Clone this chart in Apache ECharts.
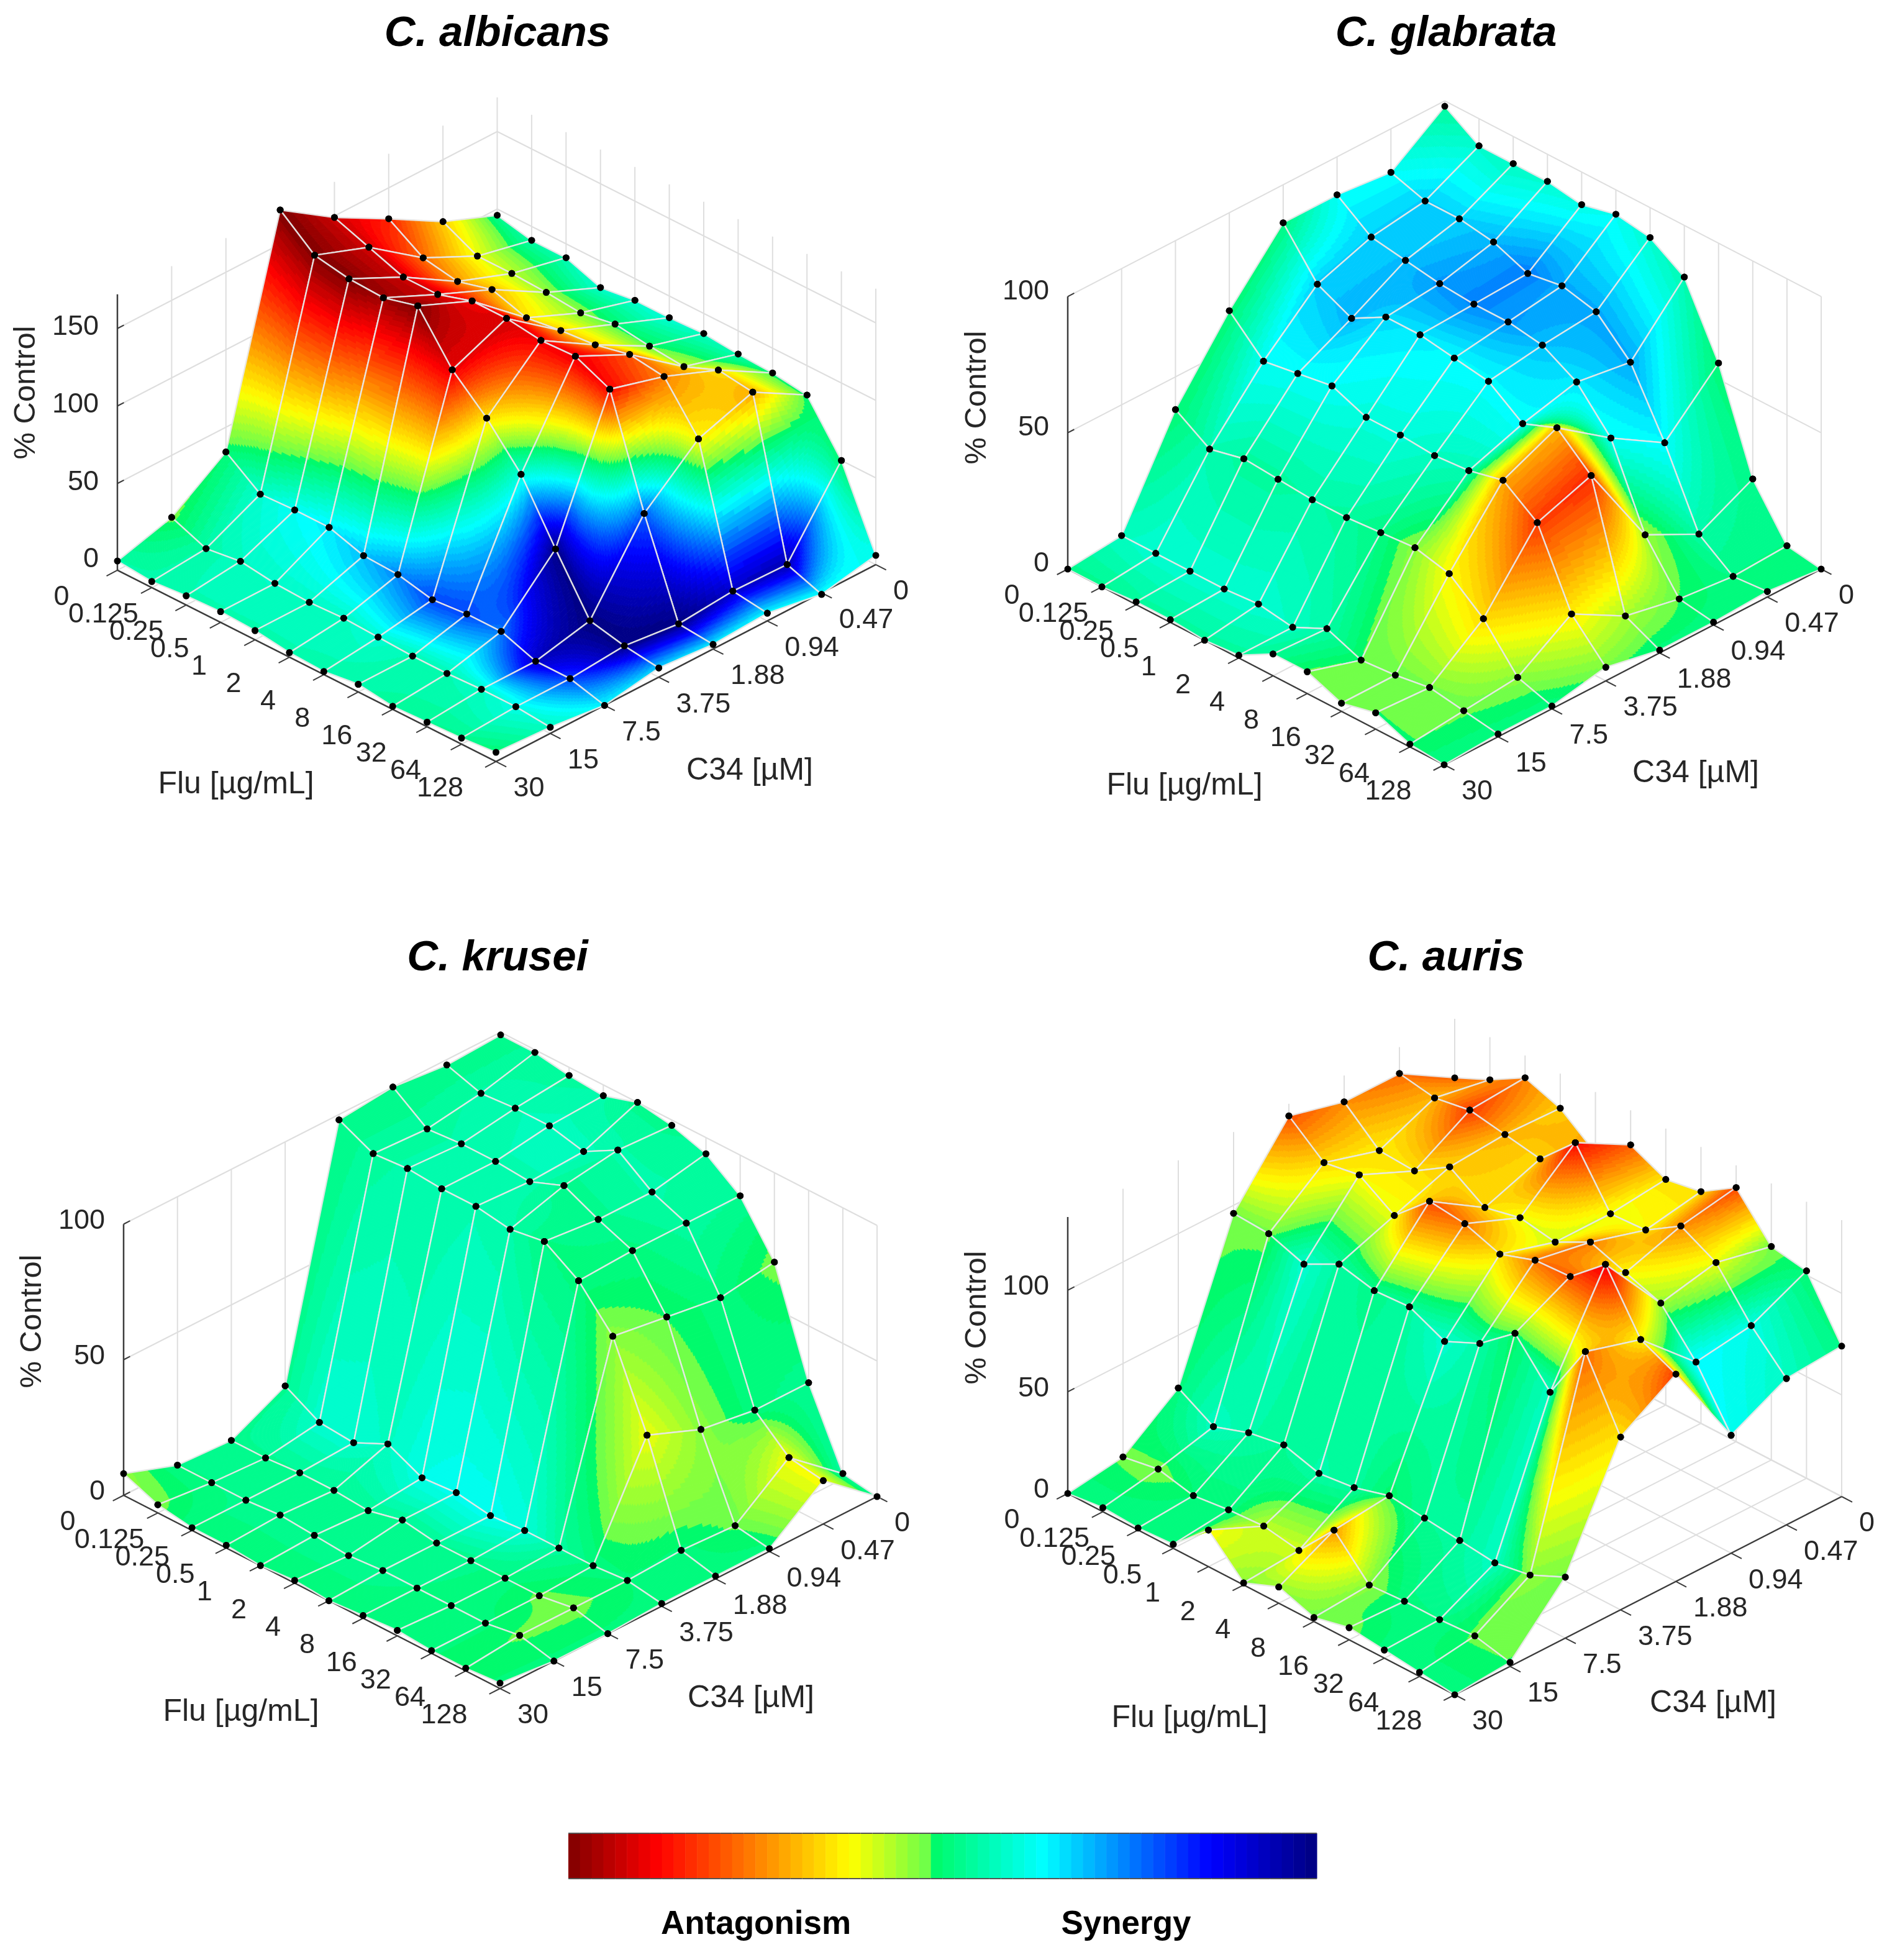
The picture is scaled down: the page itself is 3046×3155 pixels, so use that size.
<!DOCTYPE html>
<html>
<head>
<meta charset="utf-8">
<style>html,body{margin:0;background:#fff}#main{width:3046px;height:3155px}</style>
<script src="https://cdn.jsdelivr.net/npm/echarts@6/dist/echarts.min.js"></script>
</head>
<body>
<div id="main"></div>
<script>
// axis labels, k = 0 is the front edge (C34 = 30)
var fluLabels = ['0','0.125','0.25','0.5','1','2','4','8','16','32','64','128'];
var c34Labels = ['30','15','7.5','3.75','1.88','0.94','0.47','0'];

// % control, one row per Flu dose, one column per C34 dose (30 -> 0)
var albicansZ = [
  [0,10,34,172,149,130,110,96],
  [-2,1,18,154,141,116,99,91],
  [0,4,19,150,133,112,99,91],
  [1,1,19,149,133,118,98,83],
  [0,0,12,155,140,111,96,86],
  [-3,1,11,125,140,114,100,86],
  [-4,0,6,105,137,116,97,87],
  [-1,-1,8,80,138,121,95,85],
  [-4,-1,8,43,128,118,104,84],
  [-3,0,0,8,59,89,101,81],
  [-2,0,0,3,-1,2,1,50],
  [0,-2,-6,0,-3,-1,-7,0]
];
var glabrataZ = [
  [0,2,38,64,86,86,84,98],
  [0,2,30,52,70,77,80,90],
  [1,2,33,54,64,75,80,90],
  [1,2,32,56,71,73,78,90],
  [0,3,31,51,71,72,73,88],
  [1,1,31,51,69,72,75,91],
  [8,7,32,50,67,70,72,89],
  [8,2,33,51,58,63,60,81],
  [3,3,30,54,63,49,37,56],
  [6,5,20,45,52,20,10,20],
  [1,3,5,18,7,3,1,2],
  [0,1,1,5,1,1,2,0]
];
var kruseiZ = [
  [8,1,0,10,98,100,98,99],
  [3,1,0,3,92,91,94,99],
  [1,1,1,2,93,92,95,97],
  [1,2,1,8,92,92,95,96],
  [0,1,0,2,92,91,92,100],
  [1,0,3,3,90,96,99,98],
  [0,1,1,1,92,90,90,94],
  [1,1,1,2,84,85,85,85],
  [2,1,1,2,70,67,64,67],
  [1,1,1,2,40,32,29,29],
  [1,3,3,3,4,3,18,2],
  [2,0,0,1,1,1,16,0]
];
var aurisZ = [
  [0,4,24,96,130,123,123,107],
  [2,7,14,95,116,108,120,115],
  [1,3,20,89,119,107,123,125],
  [2,5,23,98,108,118,120,119],
  [18,6,18,94,124,107,117,106],
  [1,3,20,95,122,111,134,119],
  [8,22,25,87,116,108,108,111],
  [2,4,23,95,122,117,109,114],
  [6,5,21,109,123,111,120,125],
  [4,5,19,89,138,105,111,105],
  [2,6,22,118,110,85,89,102],
  [0,2,30,85,102,58,72,74]
];

// interaction score: +100 antagonism ... -100 synergy
var albicansScore = [
  [-10,5,0,100,85,70,35,-5],
  [-10,-10,-18,100,85,55,22,-10],
  [-12,-15,-25,100,85,45,15,-12],
  [-12,-16,-30,95,85,40,10,-18],
  [-12,-15,-38,100,75,30,8,-18],
  [-12,-15,-48,80,85,35,0,-20],
  [-10,-18,-60,30,78,35,3,-15],
  [-10,-12,-60,-20,80,60,15,-12],
  [-8,-12,-50,-98,76,50,30,0],
  [-6,-15,-85,-100,-55,25,42,0],
  [-5,-22,-60,-100,-100,-85,-90,0],
  [0,-15,-28,-35,-30,-27,-25,-25]
];
var glabrataScore = [
  [-5,-15,0,0,-2,-25,-25,-8],
  [-5,-18,-12,-25,-35,-35,-35,-18],
  [-8,-18,-8,-25,-40,-38,-35,-15],
  [-8,-18,-8,-25,-33,-45,-40,-18],
  [-8,-18,-10,-20,-30,-48,-50,-22],
  [-8,-15,-8,-20,-27,-45,-42,-25],
  [-6,-10,-3,-15,-27,-38,-42,-18],
  [4,3,8,-12,-27,-30,-42,-12],
  [4,4,25,42,40,-25,-27,0],
  [3,5,32,65,68,10,-10,-5],
  [3,4,8,28,12,3,-3,-3],
  [-3,-2,-2,6,-1,-2,-3,-3]
];
var kruseiScore = [
  [8,-3,-6,-5,-3,-3,-3,-3],
  [5,-3,-5,-18,-8,-8,-10,-8],
  [-2,-4,-6,-18,-10,-10,-12,-8],
  [-2,-4,-6,-15,-10,-12,-14,-10],
  [-2,-4,-6,-22,-12,-12,-14,-5],
  [-2,-4,-6,-24,-10,-5,-10,-5],
  [-2,-4,-6,-24,-3,-5,-10,-8],
  [-2,-3,-4,-20,-2,-2,-8,-6],
  [-2,-2,-2,-8,8,3,-2,5],
  [0,-1,4,-2,22,8,-2,-5],
  [0,4,5,0,-1,4,24,-8],
  [0,-1,-1,-1,-1,-1,24,-6]
];
var aurisScore = [
  [-3,4,-2,5,60,48,55,58],
  [-3,6,-15,5,32,28,40,50],
  [-3,0,-10,-18,25,30,65,50],
  [-2,-2,-6,-8,22,35,40,35],
  [25,15,-10,-5,62,32,32,45],
  [8,18,-8,-8,52,22,75,58],
  [10,45,2,-18,30,18,22,30],
  [5,8,-6,-10,52,52,25,30],
  [5,-2,-8,2,60,25,48,62],
  [-1,-3,-15,-15,80,10,22,5],
  [-2,4,8,55,25,-28,-22,0],
  [-2,3,5,30,65,-25,-15,-3]
];

var panels = [
  {title:'C. albicans', z:albicansZ, score:albicansScore, zTicks:[0,50,100,150], zMin:-6, zMax:172, zPx:2.495, zLabelDy:-2,
   leftPt:[189,903], frontPt:[798.5,1211], rightPt:[1410,894], grid:[0,0],
   titlePos:[796,50], flu:[380,1263], c34:[1207,1241], ctrl:[42,632]},
  {title:'C. glabrata', z:glabrataZ, score:glabrataScore, zTicks:[0,50,100], zMin:0, zMax:100, zPx:4.387, zLabelDy:-8,
   leftPt:[1719,916], frontPt:[2325,1231], rightPt:[2932,916], grid:[1523,0],
   titlePos:[2323,50], flu:[1907,1265], c34:[2730,1245], ctrl:[1573,640]},
  {title:'C. krusei', z:kruseiZ, score:kruseiScore, zTicks:[0,50,100], zMin:0, zMax:100, zPx:4.365, zLabelDy:-5,
   leftPt:[199,2407], frontPt:[805,2718], rightPt:[1412,2409], grid:[0,1500],
   titlePos:[796,1538], flu:[388,2756], c34:[1209,2734], ctrl:[52,2127]},
  {title:'C. auris', z:aurisZ, score:aurisScore, zTicks:[0,50,100], zMin:0, zMax:136, zPx:3.272, zLabelDy:-5,
   leftPt:[1719,2404], frontPt:[2342,2728], rightPt:[2965,2409], grid:[1523,1500],
   titlePos:[2323,1538], flu:[1915,2766], c34:[2758,2742], ctrl:[1573,2121]}
];
var gridW = 1523, gridH = 1655;

// 64 level colormap, with the hard step between yellow-green and green
var colorStops = [
  [0,[128,0,0]],[0.12,[255,0,0]],[0.377,[255,255,0]],[0.484,[102,255,77]],
  [0.4841,[0,250,100]],[0.634,[0,255,255]],[0.858,[0,0,255]],[1,[0,0,128]]
];
var levels = [];
for (var l = 0; l < 64; l++) {
  var p = (l + 0.5) / 64, s = 0;
  while (s < colorStops.length - 2 && p > colorStops[s + 1][0]) s++;
  var a = colorStops[s], b = colorStops[s + 1], t = (p - a[0]) / (b[0] - a[0]);
  levels.push('rgb(' + [0,1,2].map(function (q) { return Math.round(a[1][q] + (b[1][q] - a[1][q]) * t); }).join(',') + ')');
}
function scoreLevel(score) {
  var lev = Math.floor((100 - score) / 200 * 64);
  return Math.max(0, Math.min(63, lev));
}

// 3D -> view units of the panel's hidden axes
function project(pn, i, k, z) {
  var x = pn.leftPt[0] + i * (pn.frontPt[0] - pn.leftPt[0]) / 11 + k * (pn.rightPt[0] - pn.frontPt[0]) / 7;
  var y = pn.leftPt[1] + i * (pn.frontPt[1] - pn.leftPt[1]) / 11 + k * (pn.rightPt[1] - pn.frontPt[1]) / 7;
  return [x - pn.grid[0], pn.grid[1] + gridH - (y - z * pn.zPx)];
}

var font = '"Liberation Sans", Arial, sans-serif';
function textEl(str, pos, size, align, rot) {
  return {type:'text', x:pos[0], y:pos[1], rotation:rot || 0,
    style:{text:str, x:0, y:0, fill:'#262626', font:size + 'px ' + font, align:align, verticalAlign:'middle'}};
}
function lineEl(a, b, color, w) {
  return {type:'line', shape:{x1:a[0], y1:a[1], x2:b[0], y2:b[1]}, style:{stroke:color, lineWidth:w}};
}

function renderFrame(pn, api) {
  var out = [], grey = '#dedede', dark = '#3c3c3c';
  function pt(i, k, z) { return api.coord(project(pn, i, k, z)); }
  var i, k;
  // floor
  for (i = 0; i < 12; i++) out.push(lineEl(pt(i,0,pn.zMin), pt(i,7,pn.zMin), grey, 2));
  for (k = 0; k < 8; k++) out.push(lineEl(pt(0,k,pn.zMin), pt(11,k,pn.zMin), grey, 2));
  // back walls
  for (k = 1; k < 8; k++) out.push(lineEl(pt(0,k,pn.zMin), pt(0,k,pn.zMax), grey, 2));
  for (i = 1; i < 12; i++) out.push(lineEl(pt(i,7,pn.zMin), pt(i,7,pn.zMax), grey, 2));
  pn.zTicks.forEach(function (v) {
    out.push(lineEl(pt(0,0,v), pt(0,7,v), grey, 2));
    out.push(lineEl(pt(0,7,v), pt(11,7,v), grey, 2));
  });
  // axes with ticks
  out.push(lineEl(pt(0,0,pn.zMin), pt(0,0,pn.zMax), dark, 2.5));
  out.push(lineEl(pt(0,0,pn.zMin), pt(11,0,pn.zMin), dark, 2.5));
  out.push(lineEl(pt(11,0,pn.zMin), pt(11,7,pn.zMin), dark, 2.5));
  pn.zTicks.forEach(function (v) {
    var a = pt(0,0,v);
    out.push(lineEl(a, pt(0,0.12,v), dark, 2));
    out.push(textEl(String(v), [a[0] - 30, a[1] + pn.zLabelDy], 45, 'right'));
  });
  fluLabels.forEach(function (lab, n) {
    var a = pt(n,0,pn.zMin);
    out.push(lineEl(a, pt(n,-0.2,pn.zMin), dark, 2));
    var shift = lab.indexOf('.') >= 0 ? 2 + lab.length * 2 : 0;
    out.push(textEl(lab, [a[0] - 90 + shift, a[1] + 44], 45, 'center'));
  });
  c34Labels.forEach(function (lab, n) {
    var a = pt(11,n,pn.zMin);
    out.push(lineEl(a, pt(11.3,n,pn.zMin), dark, 2));
    out.push(textEl(lab, [a[0] + 28, a[1] + 44], 45, 'left'));
  });
  return {type:'group', children:out};
}

// shading steps inside a cell: each strip along k is straight, so 4 corners are enough
var SUB_I = 28, SUB_K = 90;
function renderCell(pn, params, api) {
  var i = api.value(0), k = api.value(1), out = [];
  var z = pn.z, sc = pn.score;
  function mix(m, u, v) {
    return m[i][k] * (1 - u) * (1 - v) + m[i + 1][k] * u * (1 - v) + m[i][k + 1] * (1 - u) * v + m[i + 1][k + 1] * u * v;
  }
  function pos(u, v) { return api.coord(project(pn, i + u, k + v, mix(z, u, v))); }
  for (var r = 0; r < SUB_I; r++) {
    var u0 = r / SUB_I, u1 = (r + 1) / SUB_I, um = (u0 + u1) / 2, c = 0;
    while (c < SUB_K) {
      var lev = scoreLevel(mix(sc, um, (c + 0.5) / SUB_K)), e = c + 1;
      while (e < SUB_K && scoreLevel(mix(sc, um, (e + 0.5) / SUB_K)) === lev) e++;
      var pts = [pos(u0, c / SUB_K), pos(u0, e / SUB_K), pos(u1, e / SUB_K), pos(u1, c / SUB_K)];
      out.push({type:'polygon', shape:{points:pts}, style:{fill:levels[lev], stroke:levels[lev], lineWidth:1}});
      c = e;
    }
  }
  var corners = [[i,k],[i+1,k],[i+1,k+1],[i,k+1]].map(function (n) {
    return api.coord(project(pn, n[0], n[1], z[n[0]][n[1]]));
  });
  out.push({type:'polygon', shape:{points:corners}, style:{fill:'none', stroke:'rgba(232,232,232,0.95)', lineWidth:2.4}});
  corners.forEach(function (c0) {
    out.push({type:'circle', shape:{cx:c0[0], cy:c0[1], r:5.5}, style:{fill:'#000'}});
  });
  return {type:'group', children:out};
}

var grids = [], xAxes = [], yAxes = [], series = [], titles = [];
panels.forEach(function (pn, n) {
  grids.push({left:pn.grid[0], top:pn.grid[1], width:gridW, height:gridH});
  xAxes.push({type:'value', gridIndex:n, min:0, max:gridW, show:false});
  yAxes.push({type:'value', gridIndex:n, min:0, max:gridH, show:false});
  titles.push({text:pn.title, left:pn.titlePos[0], top:pn.titlePos[1], textAlign:'center', textVerticalAlign:'middle',
    textStyle:{fontFamily:font, fontSize:69, fontWeight:'bold', fontStyle:'italic', color:'#000'}});
  series.push({type:'custom', xAxisIndex:n, yAxisIndex:n, z:1, silent:true, clip:false, data:[[0,0]],
    renderItem:function (params, api) { return renderFrame(pn, api); }});
  var cells = [];
  for (var i = 0; i < 11; i++) for (var k = 6; k >= 0; k--) cells.push([i, k]);
  series.push({type:'custom', xAxisIndex:n, yAxisIndex:n, z:2, silent:true, clip:false, progressive:0, data:cells,
    renderItem:function (params, api) { return renderCell(pn, params, api); }});
  // axis names
  series.push({type:'custom', xAxisIndex:n, yAxisIndex:n, z:3, silent:true, clip:false, data:[[0,0]],
    renderItem:function () {
      return {type:'group', children:[
        textEl('Flu [µg/mL]', pn.flu, 50, 'center'),
        textEl('C34 [µM]', pn.c34, 50, 'center'),
        textEl('% Control', pn.ctrl, 49, 'center', Math.PI / 2)
      ]};
    }});
});

// colour bar
grids.push({left:915, top:2951, width:1205, height:73});
xAxes.push({type:'value', gridIndex:4, min:0, max:64, show:false});
yAxes.push({type:'value', gridIndex:4, min:0, max:1, show:false});
series.push({type:'custom', xAxisIndex:4, yAxisIndex:4, silent:true, clip:false,
  data:levels.map(function (c, n) { return [n, 0]; }),
  renderItem:function (params, api) {
    var n = api.value(0), a = api.coord([n, 1]), b = api.coord([n + 1, 0]);
    return {type:'group', children:[
      {type:'rect', shape:{x:a[0], y:a[1], width:b[0] - a[0] + 0.5, height:b[1] - a[1]}, style:{fill:levels[n]}},
      lineEl([a[0], a[1]], [b[0], a[1]], '#555', 2),
      lineEl([a[0], b[1]], [b[0], b[1]], '#555', 2)
    ]};
  }});
['Antagonism','Synergy'].forEach(function (s, n) {
  titles.push({text:s, left:[1212,1808][n], top:3093, textAlign:'center', textVerticalAlign:'middle',
    textStyle:{fontFamily:font, fontSize:53, fontWeight:'bold', color:'#000'}});
});

var chart = echarts.init(document.getElementById('main'), null, {renderer:'canvas'});
chart.setOption({
  animation:false,
  backgroundColor:'#fff',
  title:titles,
  grid:grids,
  xAxis:xAxes,
  yAxis:yAxes,
  series:series
});
</script>
</body>
</html>
